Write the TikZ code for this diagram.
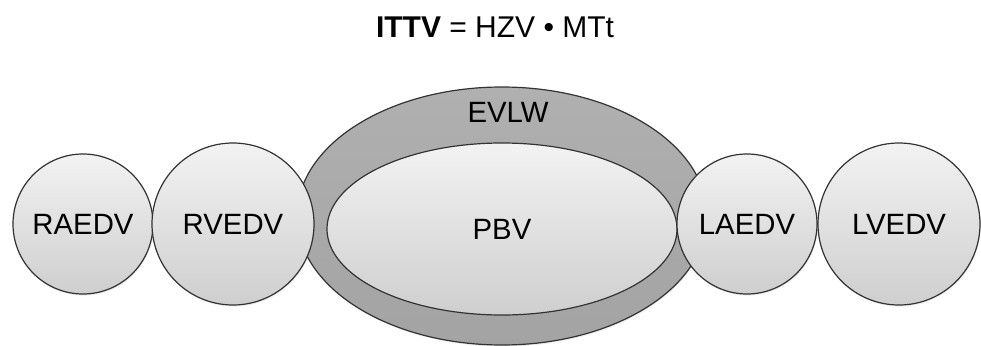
\documentclass[tikz,border=0pt]{standalone}
\usepackage{fontspec}
\setmainfont{Liberation Sans}
\usetikzlibrary{shapes,shadows}
\usetikzlibrary{positioning,calc}

\begin{document}
\begin{tikzpicture}[x=0.75pt, y=-0.75pt, align=center]

%local definitions
\tikzstyle{Chamber} = [draw=black!80, line width=0.9pt, circle, inner sep=0pt, top color=gray!10, bottom color=gray!38, drop shadow={opacity=0.15, shadow xshift=0.6pt, shadow yshift=-1.2pt}, font=\fontsize{22}{26}\selectfont]
\tikzstyle{Atrium} = [Chamber, minimum size=105pt]
\tikzstyle{Ventricle} = [Chamber, minimum size=121.5pt]
\tikzstyle{Lung} = [draw=black!80, line width=0.9pt, ellipse, inner sep=0pt, top color=gray!62, bottom color=gray!72, drop shadow={opacity=0.15, shadow xshift=0.6pt, shadow yshift=-1.2pt}]
\tikzstyle{Blood} = [draw=black!80, line width=0.9pt, ellipse, inner sep=0pt, top color=gray!10, bottom color=gray!38, font=\fontsize{22}{26}\selectfont]

\useasboundingbox (0,0) rectangle (981,346);

%formula
	\node[font=\fontsize{22.5}{27}\selectfont] (formula) at (495,27) {\textbf{ITTV} = HZV • MTt};

%lung compartment
	\node [Lung, minimum width=307.5pt, minimum height=193.5pt] (EVLW) at (502,216) {};
	\node [font=\fontsize{22}{26}\selectfont] (EVLWname) at (508,112) {EVLW};
	\node [Blood, minimum width=262.5pt, minimum height=129pt] (PBV) at (502,229) {PBV};

%heart chambers
	\node [Atrium] (RAEDV) at (83,224) {RAEDV};
	\node [Ventricle] (RVEDV) at (233,224) {RVEDV};
	\node [Atrium] (LAEDV) at (747,224) {LAEDV};
	\node [Ventricle] (LVEDV) at (899,224) {LVEDV};

\end{tikzpicture}
\end{document}
